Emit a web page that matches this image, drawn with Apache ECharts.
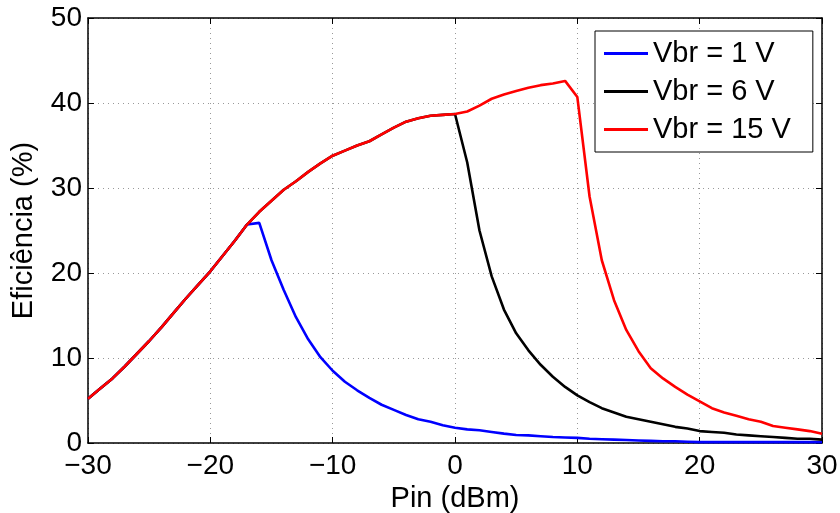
<!DOCTYPE html>
<html>
<head>
<meta charset="utf-8">
<script src="https://cdn.jsdelivr.net/npm/echarts@6/dist/echarts.min.js"></script>
<style>
html, body { margin: 0; padding: 0; background: #fff; }
#main { width: 840px; height: 513px; }
</style>
</head>
<body>
<div id="main"></div>
<script>
// Pin (dBm) e eficiencia (%)
var pin = [-30, -29, -28, -27, -26, -25, -24, -23, -22, -21, -20, -19, -18, -17, -16, -15, -14, -13, -12, -11,
	-10, -9, -8, -7, -6, -5, -4, -3, -2, -1, 0, 1, 2, 3, 4, 5, 6, 7, 8, 9,
	10, 11, 12, 13, 14, 15, 16, 17, 18, 19, 20, 21, 22, 23, 24, 25, 26, 27, 28, 29, 30];
var vbr15 = [5.2, 6.4, 7.6, 9.0, 10.5, 12.0, 13.6, 15.3, 17.0, 18.6, 20.2, 22.0, 23.8, 25.7, 27.2, 28.5, 29.8, 30.8, 31.9, 32.9,
	33.8, 34.4, 35.0, 35.5, 36.3, 37.1, 37.8, 38.2, 38.5, 38.6, 38.7, 39.0, 39.7, 40.5, 41.0, 41.4, 41.8, 42.1, 42.3, 42.6,
	40.7, 29.0, 21.5, 16.8, 13.3, 10.8, 8.8, 7.6, 6.6, 5.7, 4.9, 4.1, 3.6, 3.2, 2.8, 2.5, 2.0, 1.8, 1.6, 1.4, 1.1];
var vbr6 = [5.2, 6.4, 7.6, 9.0, 10.5, 12.0, 13.6, 15.3, 17.0, 18.6, 20.2, 22.0, 23.8, 25.7, 27.2, 28.5, 29.8, 30.8, 31.9, 32.9,
	33.8, 34.4, 35.0, 35.5, 36.3, 37.1, 37.8, 38.2, 38.5, 38.6, 38.7, 33.0, 25.0, 19.6, 15.7, 12.9, 10.9, 9.2, 7.8, 6.6,
	5.6, 4.8, 4.1, 3.6, 3.1, 2.8, 2.5, 2.2, 1.9, 1.7, 1.4, 1.3, 1.2, 1.0, 0.9, 0.8, 0.7, 0.6, 0.5, 0.5, 0.4];
var vbr1 = [5.2, 6.4, 7.6, 9.0, 10.5, 12.0, 13.6, 15.3, 17.0, 18.6, 20.2, 22.0, 23.8, 25.7, 25.9, 21.5, 18.0, 14.8, 12.2, 10.1,
	8.5, 7.2, 6.2, 5.3, 4.5, 3.9, 3.3, 2.8, 2.5, 2.1, 1.8, 1.6, 1.5, 1.3, 1.1, 0.95, 0.9, 0.8, 0.7, 0.65,
	0.6, 0.5, 0.45, 0.4, 0.35, 0.3, 0.25, 0.2, 0.2, 0.15, 0.1, 0.1, 0.1, 0.1, 0.1, 0.1, 0.1, 0.1, 0.1, 0.1, 0.1];
var nomes = ['Vbr = 1 V', 'Vbr = 6 V', 'Vbr = 15 V'];
var cores = ['#0000ff', '#000000', '#ff0000'];

var par = function(xs, ys) {
	var out = [];
	for (var i = 0; i < xs.length; i++) {
		out.push([xs[i], ys[i]]);
	}
	return out;
};
var menos = function(v) {
	return String(v).replace('-', '\u2212');
};

var fonte = 'Liberation Sans';
var grade = { show: true, lineStyle: { color: '#999', type: [1, 4], width: 1 } };
var linha = { show: true, onZero: false, lineStyle: { color: '#000', width: 1.5 } };
var tick = { show: true, inside: true, length: 6, lineStyle: { color: '#000', width: 1 } };

var myChart = echarts.init(document.getElementById('main'));
var option = {
	animation: false,
	backgroundColor: '#fff',
	textStyle: { fontFamily: fonte },
	grid: { left: 88, right: 18, top: 18, bottom: 70, containLabel: false, outerBoundsMode: 'none' },
	legend: {
		data: nomes,
		orient: 'vertical',
		left: 595,
		top: 31,
		padding: [7, 22, 7, 9],
		itemGap: 7,
		itemWidth: 44,
		itemHeight: 3,
		icon: 'rect',
		backgroundColor: '#fff',
		borderColor: '#000',
		borderWidth: 1,
		textStyle: { fontFamily: fonte, fontSize: 29, color: '#000', lineHeight: 31 }
	},
	xAxis: [{
		type: 'value', min: -30, max: 30, interval: 10,
		name: 'Pin (dBm)', nameLocation: 'middle', nameGap: 35,
		nameTextStyle: { fontFamily: fonte, fontSize: 29, color: '#000' },
		axisLine: linha, axisTick: tick, splitLine: grade,
		axisLabel: { fontFamily: fonte, fontSize: 28, color: '#000', margin: 9, formatter: menos }
	}, {
		type: 'value', min: -30, max: 30, interval: 10, position: 'top',
		axisLine: linha, axisTick: tick, splitLine: { show: false }, axisLabel: { show: false }
	}],
	yAxis: [{
		type: 'value', min: 0, max: 50, interval: 10,
		name: 'Eficiência (%)', nameLocation: 'middle', nameGap: 50,
		nameTextStyle: { fontFamily: fonte, fontSize: 29, color: '#000' },
		axisLine: linha, axisTick: tick, splitLine: grade,
		axisLabel: { fontFamily: fonte, fontSize: 28, color: '#000', margin: 6 }
	}, {
		type: 'value', min: 0, max: 50, interval: 10, position: 'right',
		axisLine: linha, axisTick: tick, splitLine: { show: false }, axisLabel: { show: false }
	}],
	series: [
		{ name: nomes[0], type: 'line', data: par(pin, vbr1), showSymbol: false, symbol: 'none', color: cores[0], lineStyle: { width: 2.6, color: cores[0] } },
		{ name: nomes[1], type: 'line', data: par(pin, vbr6), showSymbol: false, symbol: 'none', color: cores[1], lineStyle: { width: 2.6, color: cores[1] } },
		{ name: nomes[2], type: 'line', data: par(pin, vbr15), showSymbol: false, symbol: 'none', color: cores[2], lineStyle: { width: 2.6, color: cores[2] } }
	]
};
myChart.setOption(option);
</script>
</body>
</html>
